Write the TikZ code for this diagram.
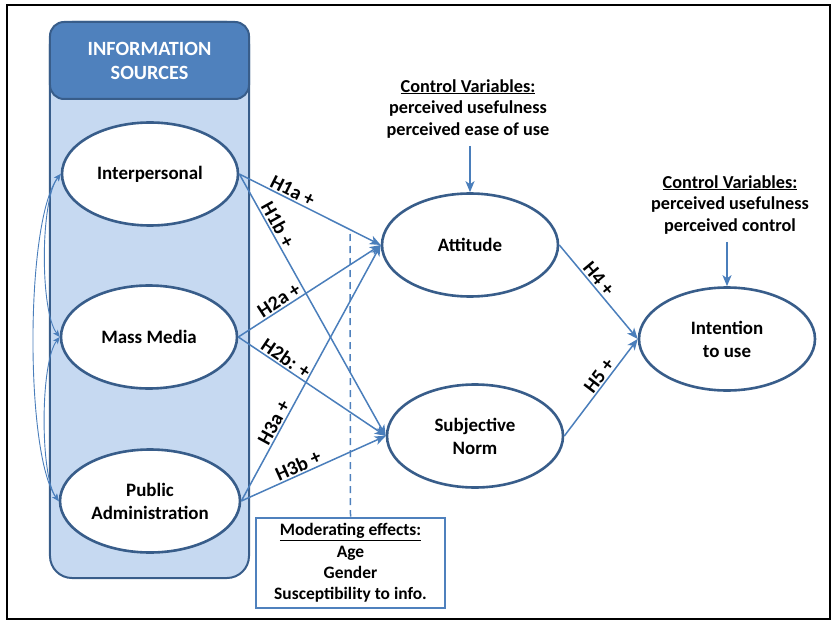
\documentclass[tikz,border=0pt]{standalone}
\usepackage{fontspec}
\setmainfont{Carlito}
\usetikzlibrary{shapes.geometric,arrows.meta}
\definecolor{edgeblue}{HTML}{4A7EBB}
\definecolor{darkblue}{HTML}{385D8A}
\definecolor{headblue}{HTML}{4F81BD}
\definecolor{lightblue}{HTML}{C6D9F1}
\begin{document}
\begin{tikzpicture}[x=1bp,y=-1bp,
  font=\fontsize{18.3}{22}\selectfont\bfseries,
  construct/.style={ellipse, draw=darkblue, line width=2.6bp, fill=white,
    minimum width=176bp, minimum height=103bp, inner sep=0pt, align=center,
    font=\fontsize{19}{23}\selectfont\bfseries},
  link/.style={draw=edgeblue, line width=1.5bp,
    -{Stealth[length=11bp,width=9bp,inset=3bp]}},
  corr/.style={draw=edgeblue, line width=0.9bp,
    {Stealth[length=7bp,width=6bp,inset=2bp]}-{Stealth[length=7bp,width=6bp,inset=2bp]}},
  hyp/.style={sloped, above, inner sep=1.5bp, font=\fontsize{20}{24}\selectfont\bfseries},
  note/.style={align=center, inner sep=1bp},
  panelbox/.style={draw=darkblue, line width=2bp, fill=lightblue,
    rounded corners=22bp, minimum width=199bp, minimum height=556bp, inner sep=0pt},
  headbox/.style={draw=darkblue, line width=2bp, fill=headblue, text=white,
    rounded corners=14bp, minimum width=199bp, minimum height=77bp, align=center, inner sep=0pt,
    font=\fontsize{20.3}{24}\selectfont\bfseries},
  modbox/.style={draw=headblue, line width=2.6bp, fill=white, align=center,
    minimum width=189bp, minimum height=90bp, inner sep=2bp,
    font=\fontsize{17.5}{21.5}\selectfont\bfseries}
]
\useasboundingbox (0,0) rectangle (837,627);
\draw[line width=1.5bp] (7,5) rectangle (830,619);

% information sources panel
\node[panelbox] (panel) at (149.5,300) {};
\node[headbox] (hdr) at (149.5,60.5) {INFORMATION\\SOURCES};

% constructs
\node[construct] (int) at (150,174) {Interpersonal};
\node[construct] (mm) at (149,337) {Mass Media};
\node[construct, minimum width=180bp] (pa) at (150,501) {Public\\Administration};
\node[construct] (att) at (470,245) {Attitude};
\node[construct] (sn) at (475,436) {Subjective\\Norm};
\node[construct] (itu) at (727,339) {Intention\\to use};

% control variables
\node[note] (cv1) at (468,109) {\underline{Control Variables:}\\perceived usefulness\\perceived ease of use};
\node[note] (cv2) at (730,205) {\underline{Control Variables:}\\perceived usefulness\\perceived control};
\draw[link] (att.north |- cv1.south) ++(0,6) -- (att.north);
\draw[link] (itu.north |- cv2.south) ++(0,6) -- (itu.north);

% moderating effects
\node[modbox] (mod) at (350.5,563) {\underline{Moderating effects:}\\Age\\Gender\\Susceptibility to info.};
\coordinate (dtop) at (350,234);
\draw[draw=headblue, line width=1.5bp, dash pattern=on 7bp off 5bp] (dtop) -- (mod.north);

% correlations among sources
\draw[corr] (int.west) .. controls (40,200) and (40,312) .. (mm.west);
\draw[corr] (mm.west) .. controls (40,362) and (40,476) .. (pa.west);
\draw[corr] (int.west) .. controls (25,220) and (25,455) .. (pa.west);

% hypotheses
\draw[link] (int.east) -- node[hyp, pos=0.35] {H1a +} (att.west);
\draw[link] (int.east) -- node[hyp, pos=0.21] {H1b +} (sn.west);
\draw[link] (mm.east) -- node[hyp, pos=0.32] {H2a +} (att.west);
\draw[link] (mm.east) -- node[hyp, pos=0.29] {H2b: +} (sn.west);
\draw[link] (pa.east) -- node[hyp, pos=0.29] {H3a +} (att.west);
\draw[link] (pa.east) -- node[hyp, pos=0.42] {H3b +} (sn.west);
\draw[link] (att.east) -- node[hyp, pos=0.42] {H4 +} (itu.west);
\draw[link] (sn.east) -- node[hyp, pos=0.57] {H5 +} (itu.west);
\end{tikzpicture}
\end{document}
